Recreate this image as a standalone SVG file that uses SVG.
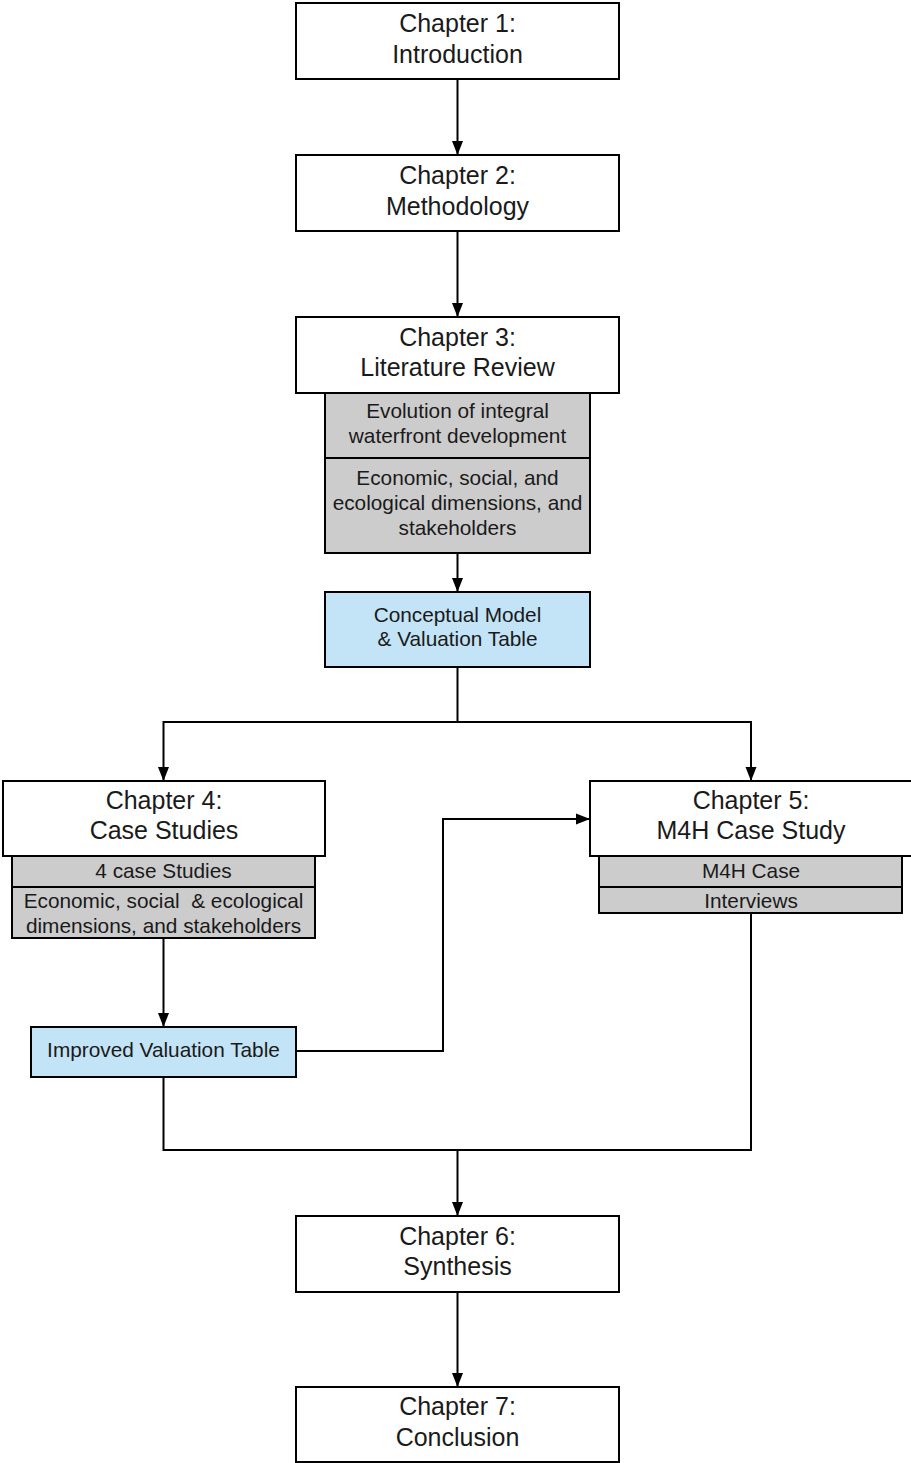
<svg xmlns="http://www.w3.org/2000/svg" width="911" height="1463" viewBox="0 0 911 1463">
  <style>
    .box { fill: #ffffff; stroke: #000000; stroke-width: 2; }
    .sub { fill: #cccccc; stroke: #000000; stroke-width: 2; }
    .out { fill: #c3e3f6; stroke: #000000; stroke-width: 2; }
    .t1 { font-family: "Liberation Sans", Arial, sans-serif; font-size: 25px; fill: #1a1a1a; text-anchor: middle; }
    .t2 { font-family: "Liberation Sans", Arial, sans-serif; font-size: 20.8px; fill: #1a1a1a; text-anchor: middle; white-space: pre; }
    .wire { fill: none; stroke: #000000; stroke-width: 2; }
  </style>
  <defs>
    <marker id="arrow" viewBox="0 0 14 12" refX="14" refY="6" markerWidth="14" markerHeight="12" markerUnits="userSpaceOnUse" orient="auto">
      <path d="M0,0.5 L14,6 L0,11.5 Z" fill="#000000"/>
    </marker>
  </defs>

  <rect width="911" height="1463" fill="#ffffff"/>

  <!-- connectors -->
  <g id="connectors">
    <path class="wire" d="M457.5,79 V155" marker-end="url(#arrow)"/>
    <path class="wire" d="M457.5,231 V317" marker-end="url(#arrow)"/>
    <path class="wire" d="M457.5,553 V592" marker-end="url(#arrow)"/>
    <path class="wire" d="M457.5,667 V722 H163.5 V781" marker-end="url(#arrow)"/>
    <path class="wire" d="M457.5,722 H751 V781" marker-end="url(#arrow)"/>
    <path class="wire" d="M163.5,938 V1027" marker-end="url(#arrow)"/>
    <path class="wire" d="M296,1051 H443 V819 H590" marker-end="url(#arrow)"/>
    <path class="wire" d="M163.5,1077 V1150 H751 V913"/>
    <path class="wire" d="M457.5,1150 V1216" marker-end="url(#arrow)"/>
    <path class="wire" d="M457.5,1292 V1387" marker-end="url(#arrow)"/>
  </g>

  <!-- Chapter 1 -->
  <g id="ch1">
    <rect class="box" x="296" y="3" width="323" height="76"/>
    <text class="t1" x="457.5" y="32">Chapter 1:</text>
    <text class="t1" x="457.5" y="63">Introduction</text>
  </g>

  <!-- Chapter 2 -->
  <g id="ch2">
    <rect class="box" x="296" y="155" width="323" height="76"/>
    <text class="t1" x="457.5" y="184">Chapter 2:</text>
    <text class="t1" x="457.5" y="215">Methodology</text>
  </g>

  <!-- Chapter 3 with its topics -->
  <g id="ch3">
    <rect class="box" x="296" y="317" width="323" height="76"/>
    <text class="t1" x="457.5" y="346">Chapter 3:</text>
    <text class="t1" x="457.5" y="376">Literature Review</text>
  </g>
  <g id="ch3-evolution">
    <rect class="sub" x="325" y="393" width="265" height="65"/>
    <text class="t2" x="457.5" y="418">Evolution of integral</text>
    <text class="t2" x="457.5" y="443">waterfront development</text>
  </g>
  <g id="ch3-dimensions">
    <rect class="sub" x="325" y="458" width="265" height="95"/>
    <text class="t2" x="457.5" y="485">Economic, social, and</text>
    <text class="t2" x="457.5" y="510">ecological dimensions, and</text>
    <text class="t2" x="457.5" y="535">stakeholders</text>
  </g>

  <!-- Conceptual model -->
  <g id="model">
    <rect class="out" x="325" y="592" width="265" height="75"/>
    <text class="t2" x="457.5" y="622">Conceptual Model</text>
    <text class="t2" x="457.5" y="646">&amp; Valuation Table</text>
  </g>

  <!-- Chapter 4 with its topics -->
  <g id="ch4">
    <rect class="box" x="3" y="781" width="322" height="75"/>
    <text class="t1" x="164" y="809">Chapter 4:</text>
    <text class="t1" x="164" y="839">Case Studies</text>
  </g>
  <g id="ch4-cases">
    <rect class="sub" x="12" y="856" width="303" height="31"/>
    <text class="t2" x="163.5" y="878">4 case Studies</text>
  </g>
  <g id="ch4-dimensions">
    <rect class="sub" x="12" y="887" width="303" height="51"/>
    <text class="t2" x="163.5" y="908">Economic, social  &amp; ecological</text>
    <text class="t2" x="163.5" y="933">dimensions, and stakeholders</text>
  </g>

  <!-- Improved valuation table -->
  <g id="improved">
    <rect class="out" x="31" y="1027" width="265" height="50"/>
    <text class="t2" x="163.5" y="1057">Improved Valuation Table</text>
  </g>

  <!-- Chapter 5 with its topics -->
  <g id="ch5">
    <rect class="box" x="590" y="781" width="323" height="75"/>
    <text class="t1" x="751" y="809">Chapter 5:</text>
    <text class="t1" x="751" y="839">M4H Case Study</text>
  </g>
  <g id="ch5-case">
    <rect class="sub" x="599" y="856" width="303" height="31"/>
    <text class="t2" x="751" y="878">M4H Case</text>
  </g>
  <g id="ch5-interviews">
    <rect class="sub" x="599" y="887" width="303" height="26"/>
    <text class="t2" x="751" y="908">Interviews</text>
  </g>

  <!-- Chapter 6 -->
  <g id="ch6">
    <rect class="box" x="296" y="1216" width="323" height="76"/>
    <text class="t1" x="457.5" y="1245">Chapter 6:</text>
    <text class="t1" x="457.5" y="1275">Synthesis</text>
  </g>

  <!-- Chapter 7 -->
  <g id="ch7">
    <rect class="box" x="296" y="1387" width="323" height="75"/>
    <text class="t1" x="457.5" y="1415">Chapter 7:</text>
    <text class="t1" x="457.5" y="1446">Conclusion</text>
  </g>
</svg>
